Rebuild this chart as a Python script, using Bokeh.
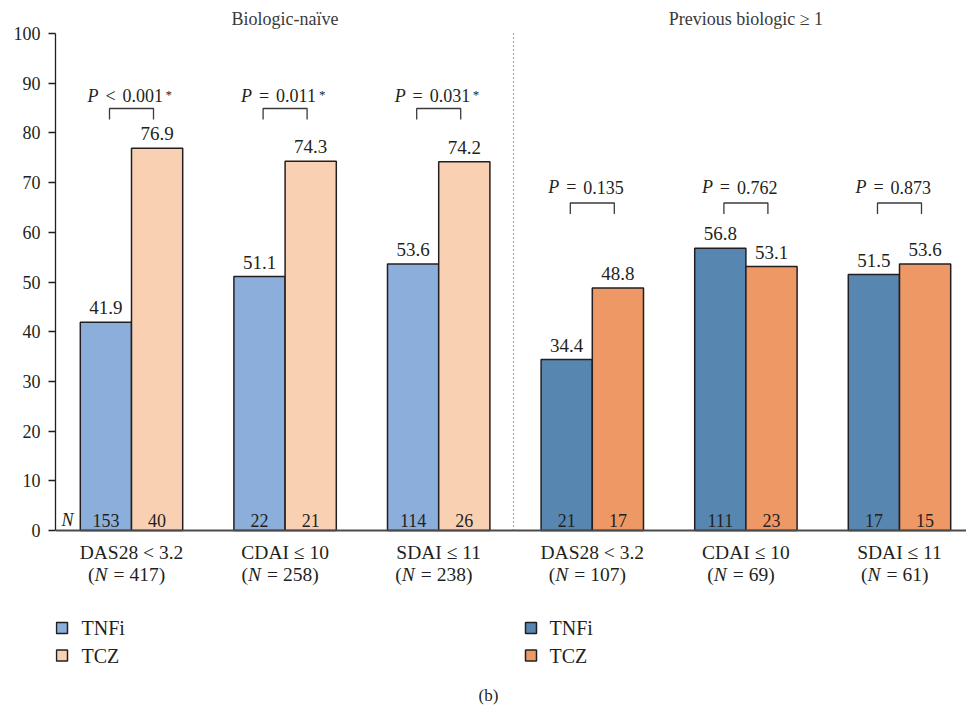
from bokeh.plotting import figure
from bokeh.models import Range1d, Span, FixedTicker, ColumnDataSource
from bokeh.core.properties import value
from bokeh.embed import file_html
from bokeh.resources import INLINE

# ---------------- data ----------------
criteria = ["DAS28 < 3.2", "CDAI ≤ 10", "SDAI ≤ 11", "DAS28 < 3.2", "CDAI ≤ 10", "SDAI ≤ 11"]
group_n = [417, 258, 238, 107, 69, 61]
tnfi_pct = [41.9, 51.1, 53.6, 34.4, 56.8, 51.5]
tcz_pct = [76.9, 74.3, 74.2, 48.8, 53.1, 53.6]
tnfi_n = [153, 22, 114, 21, 111, 17]
tcz_n = [40, 21, 26, 17, 23, 15]
p_ops = ["<", "=", "=", "=", "=", "="]
p_vals = ["0.001", "0.011", "0.031", "0.135", "0.762", "0.873"]
p_sig = [True, True, True, False, False, False]
panels = ["Biologic-naïve", "Previous biologic ≥ 1"]
treatments = ["TNFi", "TCZ"]
y_ticks = list(range(0, 101, 10))

# ---------------- styling ----------------
panel_colors = [["#8CAEDB", "#F9D1B2"], ["#5787B1", "#EE9866"]]
INK = "#231F20"
FONT = value("Liberation Serif")
W, H = 966, 710
FL = 55          # frame left (px)
PXX = 153.6      # px per group
PXY = 4.97       # px per percentage point
Y0PX = 530       # pixel row of y = 0

x_start = -(131 - FL) / PXX
x_end = x_start + (W - FL) / PXX
y_end = Y0PX / PXY
y_start = -(H - Y0PX) / PXY


def px2x(px):
    return x_start + (px - FL) / PXX


def px2y(py):
    return (Y0PX - py) / PXY


p = figure(width=W, height=H, x_range=Range1d(x_start, x_end), y_range=Range1d(y_start, y_end),
           output_backend="svg", toolbar_location=None, x_axis_location=None,
           min_border_left=FL, min_border_right=0, min_border_top=0, min_border_bottom=0)
p.outline_line_color = None
p.grid.visible = False

ax = p.yaxis[0]
ax.ticker = FixedTicker(ticks=y_ticks)
ax.bounds = (0, 100)
ax.axis_line_color = INK
ax.axis_line_width = 1.3
ax.major_tick_line_color = INK
ax.major_tick_line_width = 1.3
ax.major_tick_out = 7
ax.major_tick_in = 0
ax.minor_tick_out = 0
ax.minor_tick_in = 0
ax.major_label_text_font = "Liberation Serif"
ax.major_label_text_font_size = "18px"
ax.major_label_text_color = INK
ax.major_label_standoff = 8

groups = list(range(len(criteria)))
panel_of = [0 if g < 3 else 1 for g in groups]
HALF = 1 / 6

# bars
bx, btop, bcol, blab, bn = [], [], [], [], []
for g in groups:
    for k, vals, ns in ((0, tnfi_pct, tnfi_n), (1, tcz_pct, tcz_n)):
        bx.append(g + (-HALF if k == 0 else HALF))
        btop.append(vals[g])
        bcol.append(panel_colors[panel_of[g]][k])
        blab.append(f"{vals[g]:.1f}")
        bn.append(str(ns[g]))
src = ColumnDataSource(dict(x=bx, top=btop, color=bcol, lab=blab, n=bn,
                            ylab=[t + 14.5 / PXY for t in btop], yn=[px2y(519.5)] * len(bx)))
p.vbar(x="x", top="top", bottom=0, width=2 * HALF, fill_color="color", line_color=INK,
       line_width=1.5, source=src)

# x axis line
p.add_layout(Span(location=0, dimension="width", line_color="#4a4a4a", line_width=1.8))

# value labels and counts
p.text(x="x", y="ylab", text="lab", source=src, text_align="center", text_baseline="middle",
       text_font=FONT, text_font_size="19px", text_color=INK)
p.text(x="x", y="yn", text="n", source=src, text_align="center", text_baseline="middle",
       text_font=FONT, text_font_size="18px", text_color=INK)
p.text(x=[0], y=[px2y(519.5)], text=["N"], x_offset=-64, text_align="center",
       text_baseline="middle", text_font=FONT, text_font_style="italic",
       text_font_size="18px", text_color=INK)

# separator
sep_x = px2x(513)
p.segment(x0=[sep_x], y0=[0], x1=[sep_x], y1=[100], line_color="#555555", line_width=1.2,
          line_dash="1 3")

# panel headers
p.text(x=[1, 4], y=[px2y(18.5)] * 2, text=panels, text_align="center", text_baseline="middle",
       text_font=FONT, text_font_size="18px", text_color="#3a3a3a")

# p-value brackets and labels
BH = 22 / PXX
br_top = [px2y(108), px2y(202.5)]
br_bot = [px2y(119), px2y(213.5)]
txt_mid = [px2y(95), px2y(186.5)]
xs, ys = [], []
for g in groups:
    t, b = br_top[panel_of[g]], br_bot[panel_of[g]]
    xs.append([g - BH, g - BH, g + BH, g + BH])
    ys.append([b, t, t, b])
p.multi_line(xs=xs, ys=ys, line_color="#3a3a3a", line_width=1.3)

py = [txt_mid[panel_of[g]] for g in groups]
p.text(x=groups, y=py, text=["P"] * len(groups), x_offset=-33, text_align="right",
       text_baseline="middle", text_font=FONT, text_font_style="italic",
       text_font_size="18px", text_color=INK)
p.text(x=groups, y=py, text=p_ops, x_offset=-21, text_align="center",
       text_baseline="middle", text_font=FONT, text_font_size="18px", text_color=INK)
p.text(x=groups, y=py, text=p_vals, x_offset=-9, text_align="left",
       text_baseline="middle", text_font=FONT, text_font_size="18px", text_color=INK)
sg = [g for g in groups if p_sig[g]]
p.text(x=sg, y=[txt_mid[panel_of[g]] + 1.0 / PXY for g in sg], text=["*"] * len(sg), x_offset=34,
       text_align="left", text_baseline="middle", text_font=FONT, text_font_size="13px",
       text_color=INK)

# category labels
CF = "19.5px"
p.text(x=groups, y=[px2y(551.5)] * len(groups), text=criteria, text_align="center",
       text_baseline="middle", text_font=FONT, text_font_size=CF, text_color=INK)
l2 = [px2y(573.5)] * len(groups)
shift = [-(len(str(n)) - 3) * 9.75 / 2 for n in group_n]
src2 = ColumnDataSource(dict(x=groups, y=l2, num=[f"{n})" for n in group_n],
                             o1=[s - 37 for s in shift], o3=[s - 12.5 for s in shift],
                             o4=[s - 2 for s in shift]))
p.text(x="x", y="y", text=value("("), x_offset="o1", source=src2, text_align="right",
       text_baseline="middle", text_font=FONT, text_font_size=CF, text_color=INK)
p.text(x="x", y="y", text=value("N"), x_offset="o1", source=src2, text_align="left",
       text_baseline="middle", text_font=FONT, text_font_style="italic",
       text_font_size=CF, text_color=INK)
p.text(x="x", y="y", text=value("="), x_offset="o3", source=src2, text_align="center",
       text_baseline="middle", text_font=FONT, text_font_size=CF, text_color=INK)
p.text(x="x", y="y", text="num", x_offset="o4", source=src2, text_align="left",
       text_baseline="middle", text_font=FONT, text_font_size=CF, text_color=INK)

# legends
leg_sq_x = [px2x(61.5), px2x(530.5)]
leg_tx_x = [px2x(81), px2x(549)]
leg_y = [px2y(627.5), px2y(655)]
for pi in range(2):
    p.scatter(x=[leg_sq_x[pi]] * 2, y=leg_y, marker="square", size=11,
              fill_color=panel_colors[pi], line_color=INK, line_width=1.5)
    p.text(x=[leg_tx_x[pi]] * 2, y=leg_y, text=treatments, text_align="left",
           text_baseline="middle", text_font=FONT, text_font_size="20px", text_color=INK)

p.text(x=[px2x(488)], y=[px2y(695)], text=["(b)"], text_align="center", text_baseline="middle",
       text_font=FONT, text_font_size="17px", text_color=INK)

open("out.html", "w").write(file_html(p, INLINE))
